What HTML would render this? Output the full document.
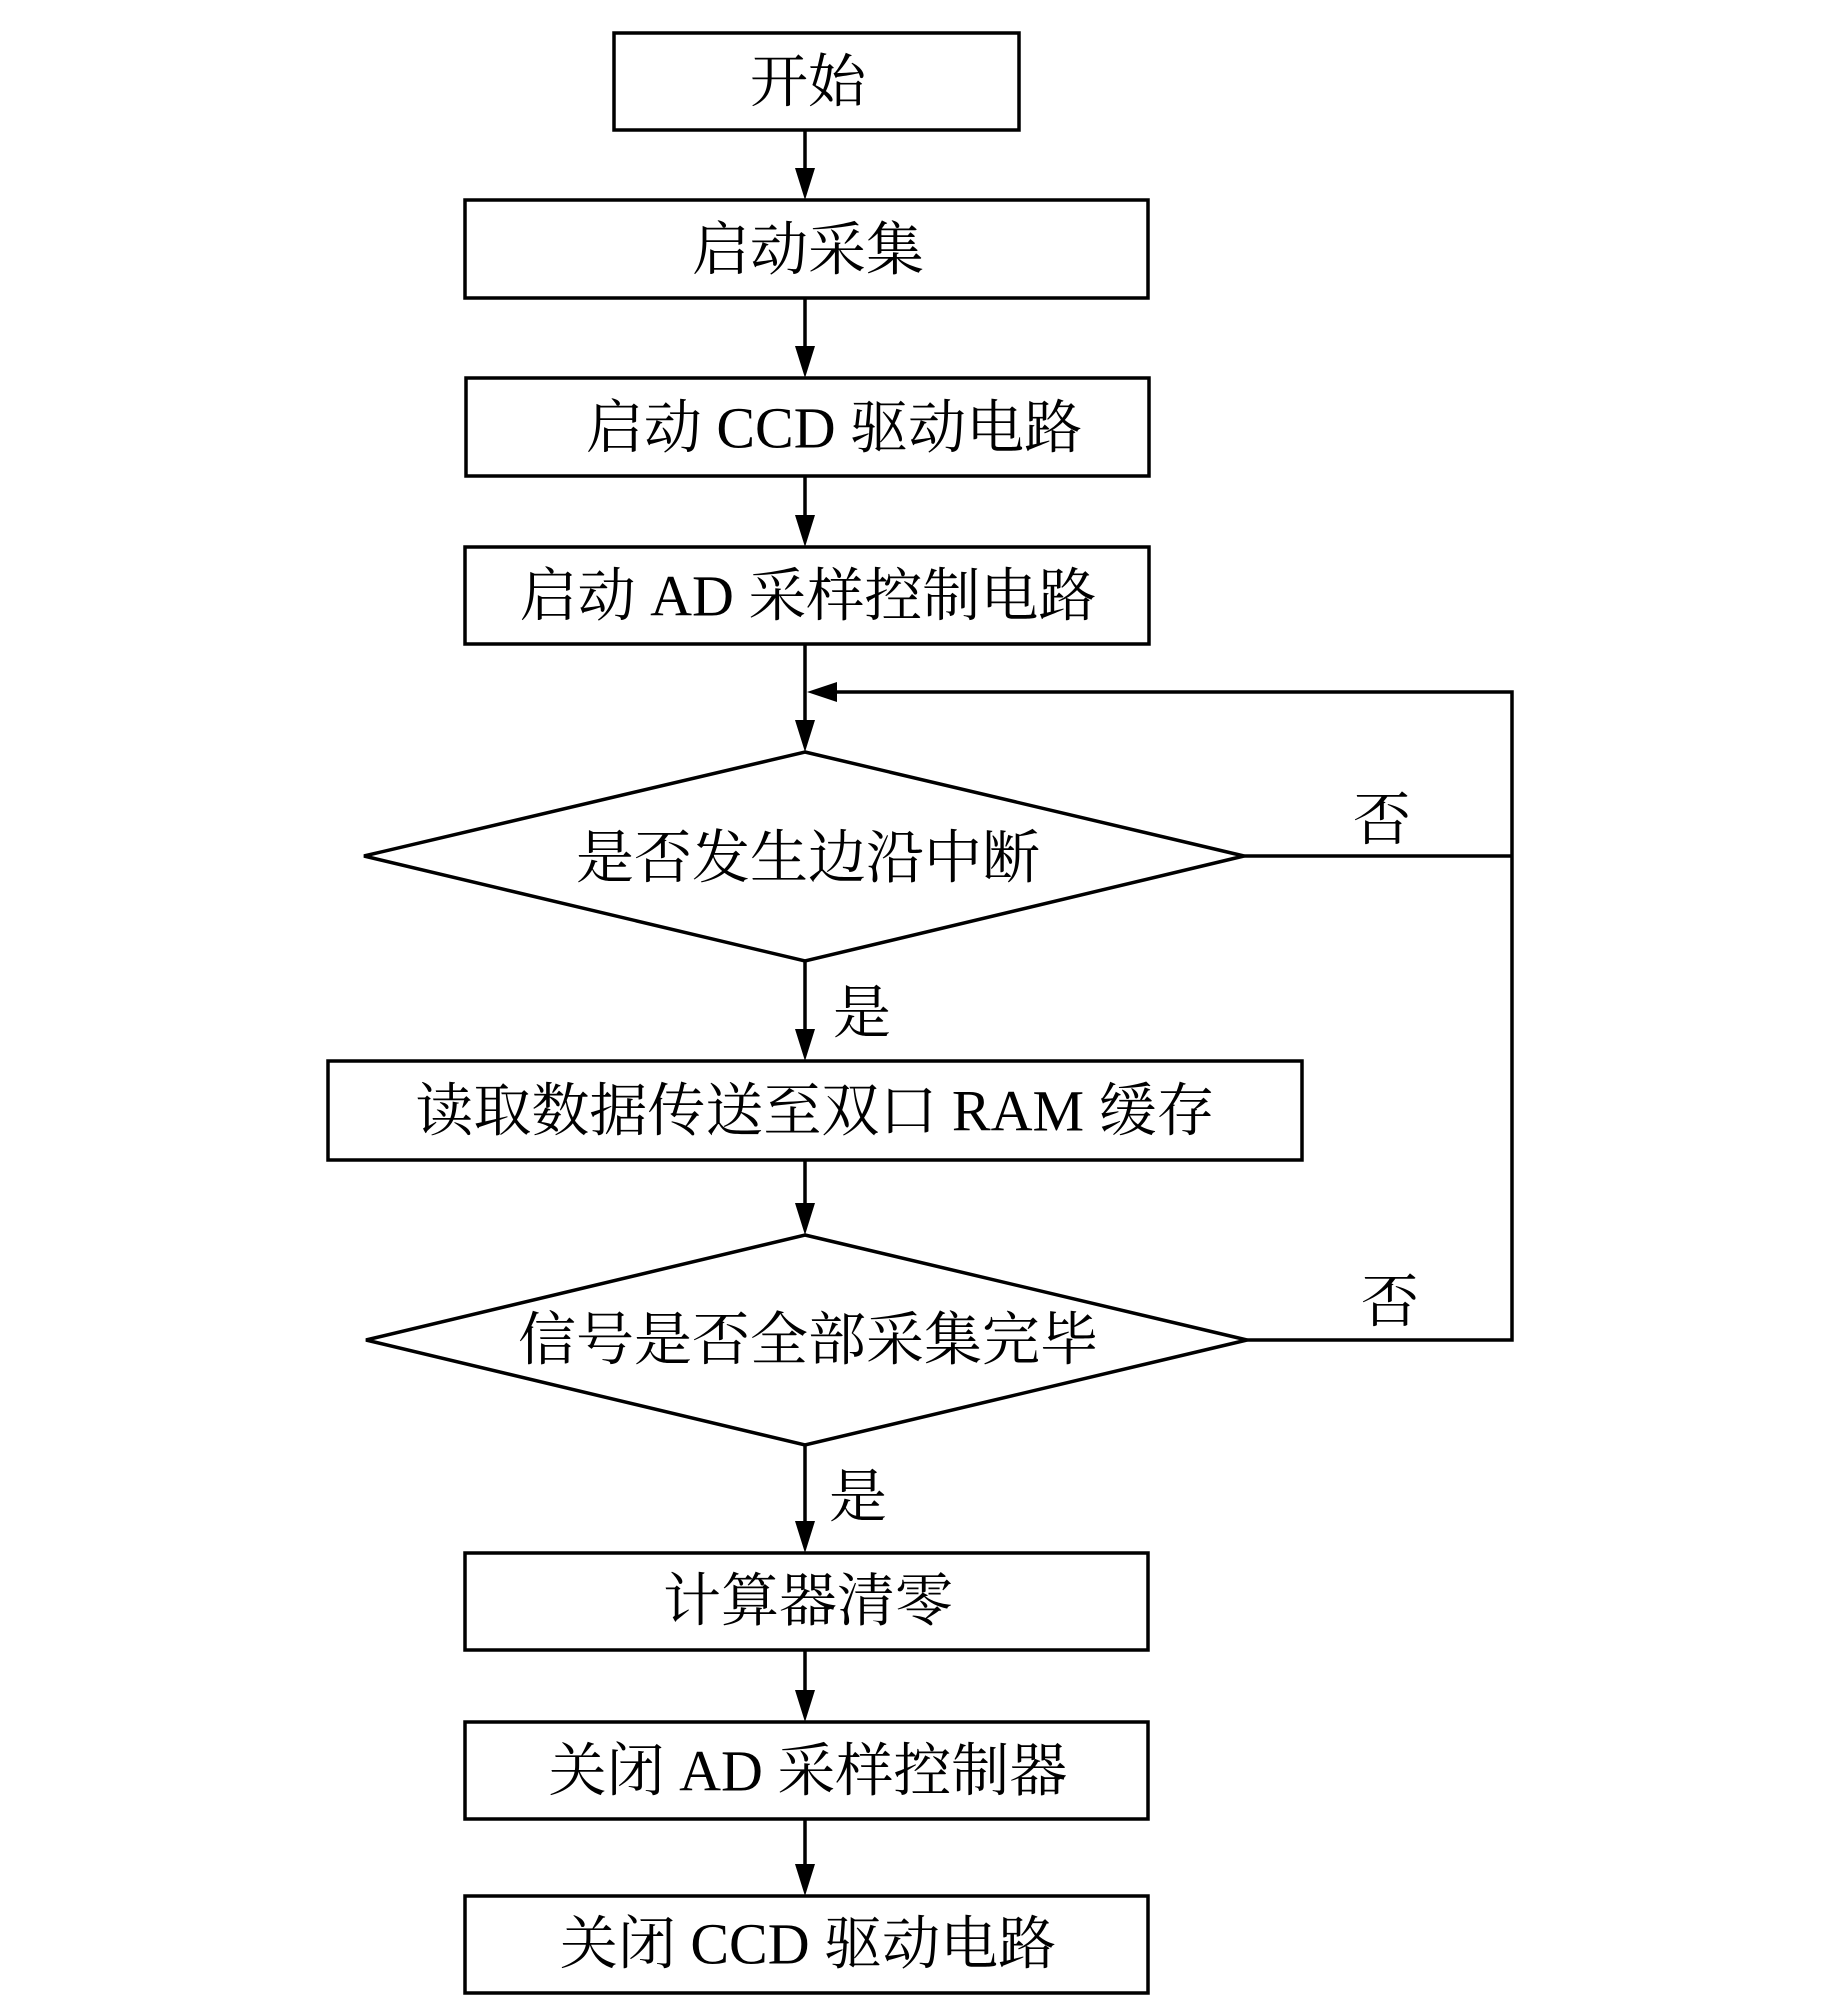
<!DOCTYPE html>
<html><head><meta charset="utf-8"><style>
html,body{margin:0;padding:0;background:#fff;}
svg{display:block;}
text{font-family:"Liberation Serif","Noto Serif CJK SC",serif;font-size:58px;fill:#000;}
</style></head><body>
<svg width="1843" height="2008" viewBox="0 0 1843 2008" xmlns="http://www.w3.org/2000/svg">
<g fill="none" stroke="#000" stroke-width="3.5">
<rect x="614" y="33" width="405" height="97"/>
<rect x="465" y="200" width="683" height="98"/>
<rect x="466" y="378" width="683" height="98"/>
<rect x="465" y="547" width="684" height="97"/>
<polygon points="805,752 1244,856 805,961 364,856"/>
<rect x="328" y="1061" width="974" height="99"/>
<polygon points="805,1235 1247,1340 805,1445 366,1340"/>
<rect x="465" y="1553" width="683" height="97"/>
<rect x="465" y="1722" width="683" height="97"/>
<rect x="465" y="1896" width="683" height="97"/>
<line x1="805" y1="130" x2="805" y2="175"/>
<line x1="805" y1="298" x2="805" y2="350"/>
<line x1="805" y1="476" x2="805" y2="520"/>
<line x1="805" y1="644" x2="805" y2="725"/>
<line x1="805" y1="961" x2="805" y2="1035"/>
<line x1="805" y1="1160" x2="805" y2="1210"/>
<line x1="805" y1="1445" x2="805" y2="1527"/>
<line x1="805" y1="1650" x2="805" y2="1696"/>
<line x1="805" y1="1819" x2="805" y2="1870"/>
<polyline points="1244,856 1512,856"/>
<polyline points="1247,1340 1512,1340 1512,692 835,692"/>
</g>
<g fill="#000">
<polygon points="795,168 815,168 805,200"/>
<polygon points="795,346 815,346 805,378"/>
<polygon points="795,515 815,515 805,547"/>
<polygon points="795,720 815,720 805,752"/>
<polygon points="795,1029 815,1029 805,1061"/>
<polygon points="795,1203 815,1203 805,1235"/>
<polygon points="795,1521 815,1521 805,1553"/>
<polygon points="795,1690 815,1690 805,1722"/>
<polygon points="795,1864 815,1864 805,1896"/>
<polygon points="807,692 837,682 837,702"/>
</g>
<g text-anchor="middle" dominant-baseline="central">
<text x="808" y="82">开始</text>
<text x="808" y="250">启动采集</text>
<text x="834" y="428">启动 CCD 驱动电路</text>
<text x="808" y="596">启动 AD 采样控制电路</text>
<text x="808" y="858">是否发生边沿中断</text>
<text x="815" y="1111">读取数据传送至双口 RAM 缓存</text>
<text x="808" y="1340">信号是否全部采集完毕</text>
<text x="808" y="1601">计算器清零</text>
<text x="808" y="1771">关闭 AD 采样控制器</text>
<text x="808" y="1944">关闭 CCD 驱动电路</text>
<text x="862" y="1013">是</text>
<text x="858" y="1497">是</text>
<text x="1382" y="820">否</text>
<text x="1390" y="1302">否</text>
</g>
</svg>
</body></html>
